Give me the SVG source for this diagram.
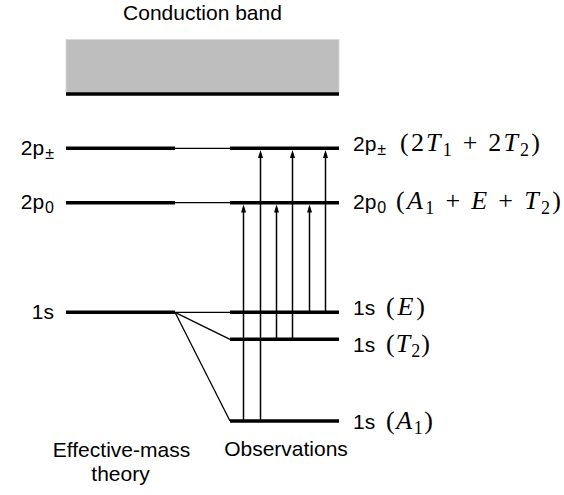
<svg xmlns="http://www.w3.org/2000/svg" width="564" height="495" viewBox="0 0 564 495">
<style>
.t{font-family:"Liberation Sans",Arial,sans-serif;font-size:21px;fill:#000}
.s{font-size:16px}
.m{font-family:"Liberation Serif","Times New Roman",serif;font-size:26px;fill:#000}
.ms{font-size:18px}
.i{font-style:italic}
.lv{stroke:#000;stroke-width:3.6;fill:none}
.th{stroke:#000;stroke-width:1.3;fill:none}
.ar{stroke:#000;stroke-width:1.5;fill:none;marker-end:url(#ah)}
</style>
<defs>
<marker id="ah" markerUnits="userSpaceOnUse" markerWidth="10" markerHeight="6" refX="0" refY="0" orient="auto" overflow="visible">
<path d="M3,0 L-5,-2.5 L-5,2.5 Z" fill="#000"/>
</marker>
</defs>
<g id="conduction-band">
<rect x="66" y="39.5" width="273" height="53" fill="#bebebe" stroke="#d6d6d6" stroke-width="0.8"/>
<line class="lv" x1="66" y1="94" x2="339" y2="94"/>
<text class="t" x="202.5" y="20" text-anchor="middle">Conduction band</text>
</g>
<g id="emt-2ppm">
<line class="lv" x1="66" y1="148.3" x2="175" y2="148.3"/>
<text class="t" x="54" y="154.8" text-anchor="end">2p<tspan class="s" dx="1" dy="4">±</tspan></text>
</g>
<g id="emt-2p0">
<line class="lv" x1="66" y1="202.7" x2="175" y2="202.7"/>
<text class="t" x="54" y="209.2" text-anchor="end">2p<tspan class="s" dx="1" dy="4">0</tspan></text>
</g>
<g id="emt-1s">
<line class="lv" x1="66" y1="312.3" x2="175" y2="312.3"/>
<text class="t" x="54" y="319.3" text-anchor="end">1s</text>
</g>
<g id="obs-2ppm">
<line class="lv" x1="230" y1="148.3" x2="339" y2="148.3"/>
<text class="t" x="353" y="151">2p<tspan class="s" dx="1" dy="4">±</tspan></text>
<text class="m" x="400" y="151" textLength="140" lengthAdjust="spacing">(2<tspan class="i">T</tspan><tspan class="ms" dy="5">1</tspan><tspan dy="-5"> + 2</tspan><tspan class="i">T</tspan><tspan class="ms" dy="5">2</tspan><tspan dy="-5">)</tspan></text>
</g>
<g id="obs-2p0">
<line class="lv" x1="230" y1="202.7" x2="339" y2="202.7"/>
<text class="t" x="353" y="209">2p<tspan class="s" dx="1" dy="4">0</tspan></text>
<text class="m" x="396" y="209" textLength="165" lengthAdjust="spacing">(<tspan class="i">A</tspan><tspan class="ms" dy="5">1</tspan><tspan dy="-5"> + </tspan><tspan class="i">E</tspan><tspan> + </tspan><tspan class="i">T</tspan><tspan class="ms" dy="5">2</tspan><tspan dy="-5">)</tspan></text>
</g>
<g id="obs-1sE">
<line class="lv" x1="230" y1="312.3" x2="339" y2="312.3"/>
<text class="t" x="353" y="314.5">1s</text>
<text class="m" x="386" y="314.5" textLength="39" lengthAdjust="spacing">(<tspan class="i">E</tspan>)</text>
</g>
<g id="obs-1sT2">
<line class="lv" x1="230" y1="339.3" x2="339" y2="339.3"/>
<text class="t" x="353" y="351.5">1s</text>
<text class="m" x="386" y="351.5" textLength="44" lengthAdjust="spacing">(<tspan class="i">T</tspan><tspan class="ms" dy="5">2</tspan><tspan dy="-5">)</tspan></text>
</g>
<g id="obs-1sA1">
<line class="lv" x1="230" y1="421" x2="339" y2="421"/>
<text class="t" x="353" y="429">1s</text>
<text class="m" x="386" y="429" textLength="47" lengthAdjust="spacing">(<tspan class="i">A</tspan><tspan class="ms" dy="5">1</tspan><tspan dy="-5">)</tspan></text>
</g>
<g id="captions">
<text class="t" x="121.5" y="456.5" text-anchor="middle">Effective-mass</text>
<text class="t" x="120.5" y="480.5" text-anchor="middle">theory</text>
<text class="t" x="286" y="456" text-anchor="middle">Observations</text>
</g>
<g id="connectors">
<line class="th" x1="175" y1="148.3" x2="230" y2="148.3"/>
<line class="th" x1="175" y1="202.7" x2="230" y2="202.7"/>
<line class="th" x1="175" y1="312.3" x2="230" y2="312.3"/>
<line class="th" x1="175" y1="312.3" x2="230" y2="339.3"/>
<line class="th" x1="175" y1="312.3" x2="230" y2="421"/>
<line class="ar" x1="243.5" y1="421" x2="243.5" y2="207.5"/>
<line class="ar" x1="260.5" y1="421" x2="260.5" y2="153.1"/>
<line class="ar" x1="276.5" y1="339.3" x2="276.5" y2="207.5"/>
<line class="ar" x1="292.5" y1="339.3" x2="292.5" y2="153.1"/>
<line class="ar" x1="309.5" y1="312.3" x2="309.5" y2="207.5"/>
<line class="ar" x1="325.5" y1="312.3" x2="325.5" y2="153.1"/>
</g>
</svg>
